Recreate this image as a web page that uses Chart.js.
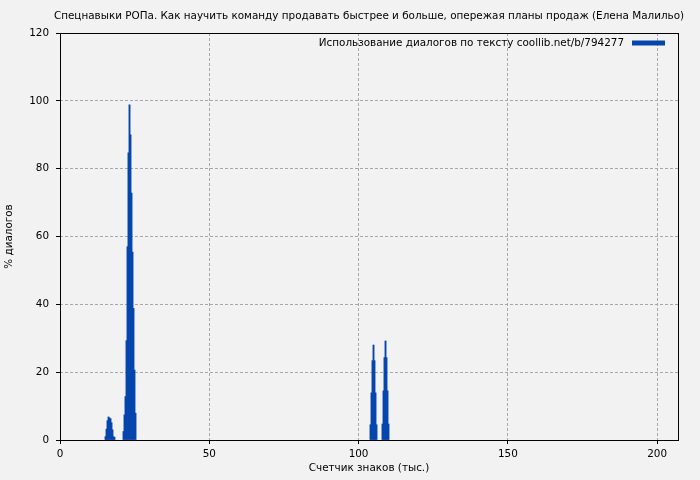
<!DOCTYPE html>
<html>
<head>
<meta charset="utf-8">
<script src="https://cdn.jsdelivr.net/npm/chart.js@4"></script>
<style>
html,body{margin:0;padding:0;background:#f2f2f2;}
#wrap{width:700px;height:480px;}
</style>
</head>
<body>
<div id="wrap"><canvas id="c" width="700" height="480"></canvas></div>
<script>
const chartTitle = "Спецнавыки РОПа. Как научить команду продавать быстрее и больше, опережая планы продаж (Елена Малильо)";
const seriesLabel = "Использование диалогов по тексту coollib.net/b/794277";
const xTitle = "Счетчик знаков (тыс.)";
const yTitle = "% диалогов";

// character counter, thousands
const charsK = [
  15.24, 15.58, 15.91, 16.25, 16.58, 16.92, 17.25, 17.58, 17.92, 18.25,
  21.27, 21.60, 21.94, 22.27, 22.61, 22.94, 23.28, 23.61, 23.95, 24.28, 24.62, 24.95, 25.29,
  104.00, 104.34, 104.67, 105.01, 105.34, 105.68, 106.01,
  108.02, 108.36, 108.69, 109.03, 109.36, 109.70, 110.03
];
// % of dialogues
const dialogPct = [
  1.0, 3.2, 5.7, 6.8, 6.5, 6.3, 5.1, 3.0, 1.0, 0.8,
  2.5, 7.4, 12.8, 29.3, 57.0, 84.7, 98.8, 90.0, 72.8, 55.4, 38.8, 20.6, 7.9,
  4.5, 13.9, 23.4, 28.0, 23.4, 13.9, 4.5,
  4.7, 14.5, 24.3, 29.2, 24.3, 14.5, 4.7
];
const xTicks = [0, 50, 100, 150, 200];
const yTicks = [0, 20, 40, 60, 80, 100, 120];
const xMax = 207;

const FONT = "DejaVu Sans";
const FSIZE = 10.4;
const barColor = "#0546ad";
const gridColor = "#a8a8a8";

const points = charsK.map((x, i) => ({x: x, y: dialogPct[i]}));

const decor = {
  id: 'decor',
  beforeDraw(chart) {
    const ctx = chart.ctx;
    ctx.save();
    ctx.fillStyle = '#f2f2f2';
    ctx.fillRect(0, 0, chart.width, chart.height);
    ctx.restore();
  },
  afterDatasetsDraw(chart) {
    const ctx = chart.ctx;
    const a = chart.chartArea;
    ctx.save();
    ctx.strokeStyle = '#000';
    ctx.lineWidth = 1;
    ctx.strokeRect(Math.round(a.left) + 0.5, Math.round(a.top) + 0.5,
                   Math.round(a.right - a.left), Math.round(a.bottom - a.top));
    // title
    ctx.fillStyle = '#000';
    ctx.font = FSIZE + 'px "' + FONT + '"';
    ctx.textAlign = 'center';
    ctx.textBaseline = 'middle';
    ctx.fillText(chartTitle, (a.left + a.right) / 2, 16);
    // legend
    ctx.textAlign = 'right';
    ctx.fillText(chart.data.datasets[0].label, a.right - 54, a.top + 10);
    ctx.strokeStyle = barColor;
    ctx.lineWidth = 5;
    ctx.beginPath();
    ctx.moveTo(a.right - 46, a.top + 10);
    ctx.lineTo(a.right - 13, a.top + 10);
    ctx.stroke();
    ctx.restore();
  }
};

new Chart(document.getElementById('c'), {
  type: 'bar',
  data: {
    datasets: [{
      label: seriesLabel,
      data: points,
      backgroundColor: barColor,
      borderWidth: 0,
      barThickness: 1.25
    }]
  },
  options: {
    responsive: false,
    animation: false,
    devicePixelRatio: 1,
    layout: {padding: {top: 33, right: 22, left: 0, bottom: 0}},
    plugins: {legend: {display: false}, title: {display: false}, tooltip: {enabled: false}},
    scales: {
      x: {
        type: 'linear',
        offset: false,
        min: 0, max: xMax,
        afterFit(s) { s.height = 40; },
        afterBuildTicks(s) { s.ticks = xTicks.map(v => ({value: v})); },
        ticks: {color: '#000', font: {family: FONT, size: FSIZE}, padding: 4, maxRotation: 0, includeBounds: false},
        grid: {offset: false, color: gridColor, tickColor: '#000', tickLength: 4, lineWidth: 1},
        border: {display: false, dash: [3, 2]},
        title: {display: true, text: xTitle, color: '#000', font: {family: FONT, size: FSIZE}, padding: {top: 0, bottom: 5}}
      },
      y: {
        min: 0, max: 120,
        afterFit(s) { s.width = 60; },
        afterBuildTicks(s) { s.ticks = yTicks.map(v => ({value: v})); },
        ticks: {color: '#000', font: {family: FONT, size: FSIZE}, padding: 7},
        grid: {color: gridColor, tickColor: '#000', tickLength: 4, lineWidth: 1},
        border: {display: false, dash: [3, 2]},
        title: {display: true, text: yTitle, color: '#000', font: {family: FONT, size: FSIZE}, padding: {top: 3, bottom: 0}}
      }
    }
  },
  plugins: [decor]
});
</script>
</body>
</html>
